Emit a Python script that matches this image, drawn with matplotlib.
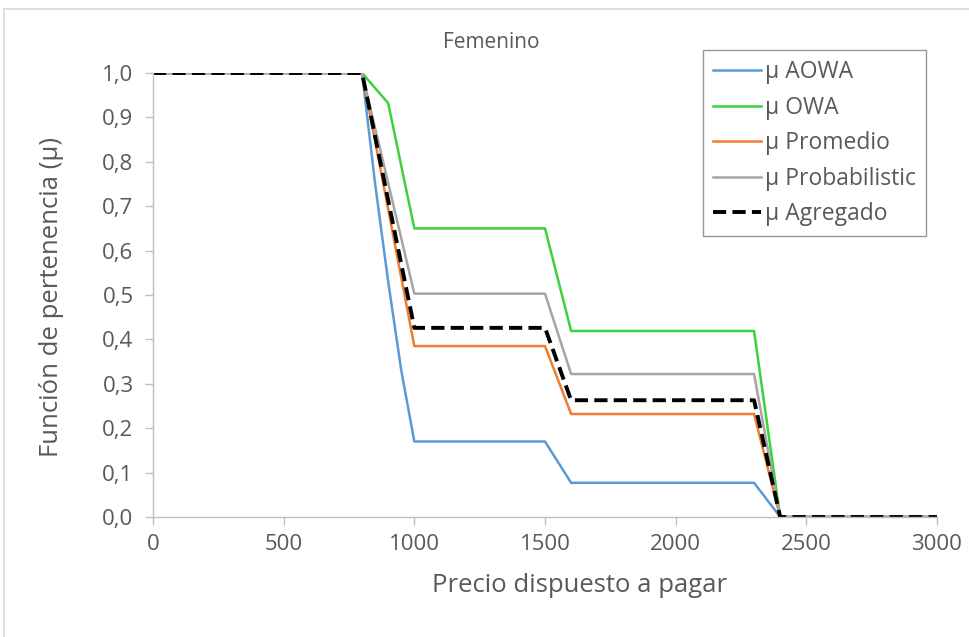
import matplotlib
matplotlib.use("Agg")
import matplotlib.pyplot as plt
from matplotlib.lines import Line2D

# Precio dispuesto a pagar (eje x)
precio_aowa = [0, 800, 850, 900, 950, 1000, 1500, 1600, 2300, 2400, 3000]
mu_aowa = [1.0, 1.0, 0.75, 0.53, 0.33, 0.17, 0.17, 0.077, 0.077, 0.0, 0.0]

precio = [0, 800, 900, 1000, 1500, 1600, 2300, 2400, 3000]
mu_owa = [1.0, 1.0, 0.932, 0.65, 0.65, 0.419, 0.419, 0.0, 0.0]
mu_promedio = [1.0, 1.0, 0.693, 0.385, 0.385, 0.232, 0.232, 0.0, 0.0]
mu_probabilistic = [1.0, 1.0, 0.752, 0.503, 0.503, 0.322, 0.322, 0.0, 0.0]
mu_agregado = [1.0, 1.0, 0.713, 0.426, 0.426, 0.263, 0.263, 0.0, 0.0]

labels = ["μ AOWA", "μ OWA", "μ Promedio", "μ Probabilistic", "μ Agregado"]
x_ticks = [0, 500, 1000, 1500, 2000, 2500, 3000]
y_ticks = [0.0, 0.1, 0.2, 0.3, 0.4, 0.5, 0.6, 0.7, 0.8, 0.9, 1.0]

plt.rcParams["font.family"] = ["Open Sans", "DejaVu Sans"]
text_color = "#595959"
axis_color = "#BFBFBF"

fig = plt.figure(figsize=(9.69, 6.37), dpi=100)
ax = fig.add_axes([153 / 969, 1 - 517 / 637, (937 - 153) / 969, (517 - 73) / 637])

ax.plot(precio_aowa, mu_aowa, color="#5B9BD5", lw=1.8, label=labels[0])
ax.plot(precio, mu_owa, color="#3CD23C", lw=1.8, label=labels[1])
ax.plot(precio, mu_promedio, color="#ED7D31", lw=1.8, label=labels[2])
ax.plot(precio, mu_probabilistic, color="#A5A5A5", lw=1.8, label=labels[3])
ax.plot(precio, mu_agregado, color="black", lw=2.8, ls=(0, (3.4, 1.6)), label=labels[4])

ax.set_xlim(0, 3000)
ax.set_ylim(0, 1.0)
ax.set_xticks(x_ticks)
ax.set_xticklabels([str(v) for v in x_ticks])
ax.set_yticks(y_ticks)
ax.set_yticklabels([f"{v:.1f}".replace(".", ",") for v in y_ticks])

for s in ("top", "right"):
    ax.spines[s].set_visible(False)
for s in ("left", "bottom"):
    ax.spines[s].set_color(axis_color)
    ax.spines[s].set_linewidth(1.0)

ax.tick_params(axis="both", colors=axis_color, labelcolor=text_color,
               labelsize=16, length=6, width=1.0, direction="out")
ax.tick_params(axis="y", pad=8)
ax.tick_params(axis="x", pad=6)

ax.set_xlabel("Precio dispuesto a pagar", fontsize=18.5, color=text_color)
ax.xaxis.set_label_coords((580 - 153) / 784, -0.125)
ax.set_ylabel("Función de pertenencia (μ)", fontsize=18.5, color=text_color)
ax.yaxis.set_label_coords(-0.113, 0.495)

fig.text(491 / 969, 1 - 43 / 637, "Femenino", ha="center", va="center",
         fontsize=15, color=text_color)

leg = ax.legend(loc="upper left", bbox_to_anchor=((703 - 153) / 784, 1 + (73 - 50) / 444),
                frameon=True, fancybox=False, fontsize=16.5, handlelength=2.1,
                handletextpad=0.15, labelspacing=0.5, borderpad=0.45,
                borderaxespad=0, labelcolor=text_color)
leg.get_frame().set_edgecolor("#7F7F7F")
leg.get_frame().set_linewidth(1.0)

# outer chart frame
fig.add_artist(Line2D([4 / 969, 4 / 969], [0, 1 - 9 / 637], transform=fig.transFigure,
                      color="#D9D9D9", lw=1.2))
fig.add_artist(Line2D([4 / 969, 1], [1 - 9 / 637, 1 - 9 / 637], transform=fig.transFigure,
                      color="#D9D9D9", lw=1.2))

fig.savefig("out.png", dpi=100)
